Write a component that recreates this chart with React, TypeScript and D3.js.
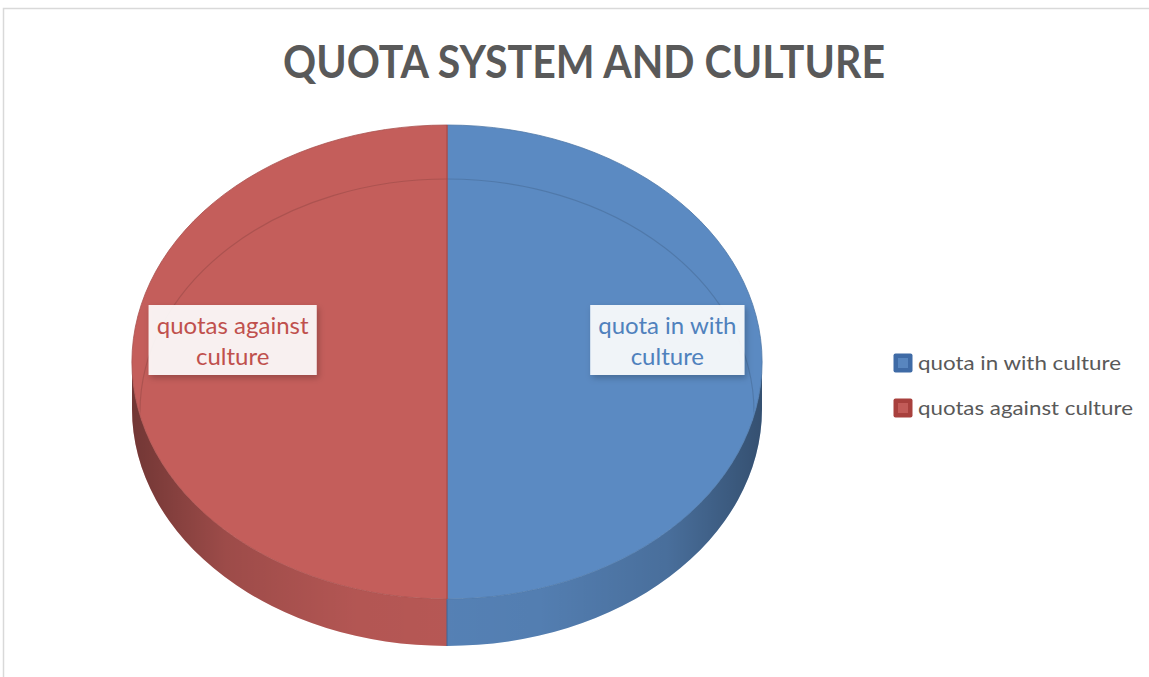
import React, { useRef, useEffect } from "react";
import * as d3 from "d3";

// chart data
const categories = ["quota in with culture", "quotas against culture"];
const values = [50, 50];
const labelLines = [["quota in with", "culture"], ["quotas against", "culture"]];
const title = "QUOTA SYSTEM AND CULTURE";

const colors = ["#5B8AC2", "#C45E5B"];
const legendColors = ["#3F6BA6", "#A8403D"];
const textColors = ["#4F81BD", "#C0504D"];

function App() {
  const svgRef = useRef<SVGSVGElement>(null);

  useEffect(() => {
    const width = 1149,
      height = 677;
    const cx = 447,
      cy = 362,
      rx = 315,
      ry = 237,
      depth = 47;

    const svg = d3.select(svgRef.current);
    svg.selectAll("*").remove();
    svg.attr("width", width).attr("height", height);

    const defs = svg.append("defs");
    const shade = defs
      .append("linearGradient")
      .attr("id", "sideShade")
      .attr("gradientUnits", "userSpaceOnUse")
      .attr("x1", cx - rx)
      .attr("x2", cx + rx)
      .attr("y1", 0)
      .attr("y2", 0);
    [
      [0, 0.42],
      [0.15, 0.2],
      [0.35, 0.09],
      [0.5, 0.07],
      [0.65, 0.09],
      [0.85, 0.2],
      [1, 0.42],
    ].forEach(([o, a]) =>
      shade
        .append("stop")
        .attr("offset", o)
        .attr("stop-color", "#000")
        .attr("stop-opacity", a)
    );
    const shadow = defs
      .append("filter")
      .attr("id", "boxShadow")
      .attr("x", "-20%")
      .attr("y", "-20%")
      .attr("width", "140%")
      .attr("height", "150%");
    shadow
      .append("feDropShadow")
      .attr("dx", 2)
      .attr("dy", 3)
      .attr("stdDeviation", 3)
      .attr("flood-color", "#000")
      .attr("flood-opacity", 0.25);

    // chart border
    svg
      .append("rect")
      .attr("x", 3.5)
      .attr("y", 8.5)
      .attr("width", width + 20)
      .attr("height", height + 20)
      .attr("fill", "#fff")
      .attr("stroke", "#D9D9D9")
      .attr("stroke-width", 1.5);

    svg
      .append("text")
      .attr("x", 584)
      .attr("y", 78)
      .attr("text-anchor", "middle")
      .attr("font-family", "Lato, 'Open Sans', sans-serif")
      .attr("font-weight", "bold")
      .attr("font-size", 45)
      .attr("fill", "#595959")
      .attr("textLength", 602)
      .attr("lengthAdjust", "spacingAndGlyphs")
      .text(title);

    const pie = d3
      .pie<number>()
      .sort(null)
      .startAngle(0)
      .endAngle(2 * Math.PI);
    const arcs = pie(values);

    const pt = (a: number, dy = 0) => [cx + rx * Math.sin(a), cy + dy - ry * Math.cos(a)];

    const g = svg.append("g");

    // side walls (front half only: angles PI/2 .. 3PI/2)
    arcs.forEach((d, i) => {
      const a0 = Math.max(d.startAngle, Math.PI / 2);
      const a1 = Math.min(d.endAngle, (3 * Math.PI) / 2);
      if (a1 <= a0) return;
      const [x0, y0] = pt(a0);
      const [x1, y1] = pt(a1);
      const path =
        `M${x0},${y0} A${rx},${ry} 0 0 1 ${x1},${y1} L${x1},${y1 + depth} ` +
        `A${rx},${ry} 0 0 0 ${x0},${y0 + depth} Z`;
      g.append("path").attr("d", path).attr("fill", colors[i]);
      g.append("path").attr("d", path).attr("fill", "url(#sideShade)");
    });

    // split edge on the front wall
    g.append("line")
      .attr("x1", cx)
      .attr("x2", cx)
      .attr("y1", cy + ry)
      .attr("y2", cy + ry + depth)
      .attr("stroke", "#3E6496")
      .attr("stroke-width", 1);

    // top faces
    arcs.forEach((d, i) => {
      const [x0, y0] = pt(d.startAngle);
      const [x1, y1] = pt(d.endAngle);
      const large = d.endAngle - d.startAngle > Math.PI ? 1 : 0;
      g.append("path")
        .attr("d", `M${cx},${cy} L${x0},${y0} A${rx},${ry} 0 ${large} 1 ${x1},${y1} Z`)
        .attr("fill", colors[i])
        .attr("stroke", d3.color(colors[i])!.darker(0.4).formatHex())
        .attr("stroke-width", 0.8);
    });

    // bevel line on the top face
    defs
      .append("clipPath")
      .attr("id", "topClip")
      .append("ellipse")
      .attr("cx", cx)
      .attr("cy", cy)
      .attr("rx", rx - 1)
      .attr("ry", ry - 1);
    g.append("ellipse")
      .attr("clip-path", "url(#topClip)")
      .attr("cx", cx)
      .attr("cy", cy + 50)
      .attr("rx", rx - 8)
      .attr("ry", ry - 4)
      .attr("fill", "none")
      .attr("stroke", "#000")
      .attr("stroke-opacity", 0.12)
      .attr("stroke-width", 1.2);

    g.append("line")
      .attr("x1", cx)
      .attr("x2", cx)
      .attr("y1", cy - ry)
      .attr("y2", cy + ry)
      .attr("stroke", "#B04A47")
      .attr("stroke-width", 1);

    // data labels
    arcs.forEach((d, i) => {
      const mid = (d.startAngle + d.endAngle) / 2;
      const lx = cx + rx * 0.69 * Math.sin(mid) + 3;
      const ly = cy - 22;
      const lg = g.append("g");
      const rect = lg.append("rect").attr("fill", "#fff").attr("fill-opacity", 0.9).attr("filter", "url(#boxShadow)");
      const t = lg
        .append("text")
        .attr("text-anchor", "middle")
        .attr("font-family", "Lato, 'Open Sans', sans-serif")
        .attr("font-size", 24)
        .attr("fill", textColors[i]);
      labelLines[i].forEach((line, j) => {
        t.append("tspan")
          .attr("x", lx)
          .attr("y", ly - 6 + j * 31)
          .text(line);
      });
      const bb = (t.node() as SVGTextElement).getBBox();
      const w = bb.width + 16;
      rect
        .attr("x", lx - w / 2)
        .attr("y", ly - 35)
        .attr("width", w)
        .attr("height", 70);
    });

    // legend
    const legend = svg.append("g").attr("transform", "translate(893,353)");
    const legendWidths = [203, 215];
    categories.forEach((c, i) => {
      const row = legend.append("g").attr("transform", `translate(0,${i * 45})`);
      row.append("rect")
        .attr("x", 0.5)
        .attr("y", 0.5)
        .attr("width", 19)
        .attr("height", 19)
        .attr("rx", 2)
        .attr("fill", legendColors[i]);
      row.append("rect")
        .attr("x", 5)
        .attr("y", 5)
        .attr("width", 10)
        .attr("height", 10)
        .attr("fill", colors[i])
        .attr("opacity", 0.9);
      row.append("text")
        .attr("x", 25)
        .attr("y", 17)
        .attr("font-family", "Lato, 'Open Sans', sans-serif")
        .attr("font-size", 20)
        .attr("fill", "#595959")
        .attr("textLength", legendWidths[i])
        .attr("lengthAdjust", "spacingAndGlyphs")
        .text(c);
    });
  }, []);

  return (
    <div style={{ position: "absolute", left: 0, top: 0 }}>
      <svg ref={svgRef} style={{ display: "block" }}></svg>
    </div>
  );
}

export default App;
